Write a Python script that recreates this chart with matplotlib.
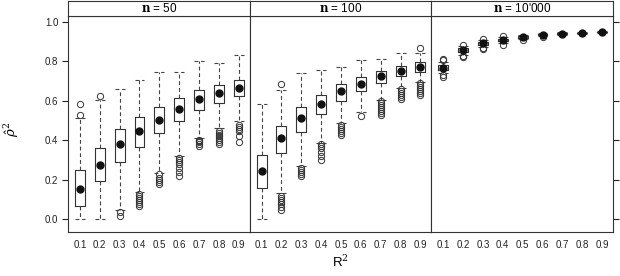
import numpy as np
import matplotlib
matplotlib.use('Agg')
import matplotlib.pyplot as plt

plt.rcParams['font.family'] = ['Liberation Sans', 'DejaVu Sans']
plt.rcParams['mathtext.fontset'] = 'dejavuserif'

r2_labels = ['0.1', '0.2', '0.3', '0.4', '0.5', '0.6', '0.7', '0.8', '0.9']
panel_titles = ['50', '100', "10'000"]

# n = 50
med_50 = [0.153, 0.274, 0.380, 0.446, 0.505, 0.559, 0.608, 0.638, 0.668]
q1_50 = [0.070, 0.193, 0.293, 0.365, 0.436, 0.500, 0.556, 0.589, 0.623]
q3_50 = [0.250, 0.362, 0.458, 0.517, 0.567, 0.615, 0.655, 0.680, 0.707]
wlo_50 = [0.000, 0.000, 0.045, 0.141, 0.237, 0.323, 0.410, 0.461, 0.496]
whi_50 = [0.515, 0.605, 0.662, 0.707, 0.749, 0.749, 0.803, 0.790, 0.835]
out_50 = [[0.53, 0.585], [0.625], [0.035, 0.015],
          [0.13, 0.12, 0.11, 0.10, 0.09, 0.08, 0.07],
          [0.23, 0.21, 0.20, 0.19, 0.18],
          [0.31, 0.30, 0.29, 0.28, 0.26, 0.24, 0.22],
          [0.40, 0.395, 0.39, 0.38, 0.37],
          [0.45, 0.44, 0.43, 0.42, 0.41, 0.40, 0.39, 0.38],
          [0.48, 0.47, 0.46, 0.45, 0.42, 0.39]]

# n = 100
med_100 = [0.246, 0.410, 0.512, 0.587, 0.648, 0.688, 0.724, 0.753, 0.774]
q1_100 = [0.158, 0.335, 0.441, 0.534, 0.601, 0.652, 0.693, 0.726, 0.749]
q3_100 = [0.328, 0.471, 0.567, 0.630, 0.685, 0.719, 0.753, 0.776, 0.798]
wlo_100 = [0.000, 0.133, 0.268, 0.389, 0.488, 0.542, 0.605, 0.665, 0.697]
whi_100 = [0.584, 0.658, 0.742, 0.756, 0.774, 0.810, 0.815, 0.845, 0.845]
out_100 = [[], [0.685, 0.12, 0.11, 0.10, 0.09, 0.08, 0.065, 0.05],
           [0.26, 0.25, 0.24, 0.23, 0.22],
           [0.38, 0.37, 0.36, 0.34, 0.32, 0.30],
           [0.48, 0.47, 0.46, 0.45, 0.44, 0.43],
           [0.525],
           [0.60, 0.59, 0.58, 0.57, 0.56, 0.55, 0.54, 0.53],
           [0.66, 0.65, 0.64, 0.63, 0.62, 0.61],
           [0.867, 0.69, 0.68, 0.67, 0.66, 0.65, 0.64, 0.63]]

# n = 10'000
med_10k = [0.769, 0.857, 0.892, 0.907, 0.924, 0.936, 0.941, 0.944, 0.949]
q1_10k = [0.757, 0.849, 0.885, 0.902, 0.920, 0.933, 0.939, 0.942, 0.947]
q3_10k = [0.781, 0.866, 0.899, 0.913, 0.928, 0.939, 0.944, 0.946, 0.951]
wlo_10k = [0.743, 0.835, 0.873, 0.893, 0.913, 0.928, 0.935, 0.939, 0.944]
whi_10k = [0.799, 0.878, 0.910, 0.922, 0.935, 0.944, 0.948, 0.950, 0.954]
out_10k = [[0.72, 0.73, 0.81, 0.815], [0.825, 0.83, 0.885], [0.865, 0.868, 0.915],
           [0.886, 0.927], [0.908], [0.925], [], [], []]

panels = [(med_50, q1_50, q3_50, wlo_50, whi_50, out_50),
          (med_100, q1_100, q3_100, wlo_100, whi_100, out_100),
          (med_10k, q1_10k, q3_10k, wlo_10k, whi_10k, out_10k)]

edge = '#333333'
fig = plt.figure(figsize=(6.2, 2.76), dpi=100)

left = 68 / 620
pw = (613 - 68) / 3 / 620
bottom = 1 - 232 / 276
top = 1 - 15.7 / 276

for k, (med, q1, q3, wlo, whi, outl) in enumerate(panels):
    ax = fig.add_axes([left + k * pw, bottom, pw, top - bottom])
    stats = []
    for i in range(len(med)):
        stats.append({'med': med[i], 'q1': q1[i], 'q3': q3[i],
                      'whislo': wlo[i], 'whishi': whi[i], 'fliers': outl[i]})
    pos = np.arange(1, len(med) + 1)
    ax.bxp(stats, positions=pos, widths=0.5, showfliers=True,
           boxprops=dict(color=edge, linewidth=0.8),
           whiskerprops=dict(color='#444444', linewidth=0.8, linestyle=(0, (3.5, 2.5))),
           capprops=dict(color='#444444', linewidth=0.8, linestyle=(0, (3.5, 2.5))),
           medianprops=dict(linewidth=0),
           flierprops=dict(marker='o', markersize=4.5, markerfacecolor='none',
                           markeredgecolor=edge, markeredgewidth=0.7),
           capwidths=0.5)
    ax.plot(pos, med, 'o', color='#111111', markersize=5, zorder=5)
    ax.set_xlim(0.4, 9.55)
    ax.set_ylim(-0.064, 1.032)
    ax.set_xticks(pos)
    ax.set_xticklabels(r2_labels, fontsize=7)
    ax.tick_params(axis='x', length=0, pad=6, colors='#222222')
    ax.set_yticks([0.0, 0.2, 0.4, 0.6, 0.8, 1.0])
    if k == 0:
        ax.tick_params(axis='y', length=4, width=0.8, labelsize=7, colors='#222222', pad=3)
        ax.set_yticklabels(['0.0', '0.2', '0.4', '0.6', '0.8', '1.0'])
    elif k == 2:
        ax.tick_params(axis='y', left=False, labelleft=False, right=True,
                       length=4, width=0.8, colors='#222222')
    else:
        ax.tick_params(axis='y', left=False, labelleft=False)
    for s in ax.spines.values():
        s.set_linewidth(0.8)
        s.set_color(edge)

    sax = fig.add_axes([left + k * pw, top, pw, 1 - top - 0.002])
    sax.set_xticks([])
    sax.set_yticks([])
    for s in sax.spines.values():
        s.set_linewidth(0.8)
        s.set_color(edge)
    sax.text(0.5, 0.45, r'$\mathbf{n}$ = ' + panel_titles[k], ha='center', va='center',
             fontsize=8.5, transform=sax.transAxes)

fig.text(0.018, 0.53, r'$\hat{\rho}^2$', rotation=90, ha='center', va='center',
         fontsize=9.5, fontfamily='DejaVu Sans')
fig.text(340 / 620, 1 - 262 / 276, r'R$^2$', ha='center', va='center', fontsize=9.5)

fig.savefig('out.png', dpi=100)
